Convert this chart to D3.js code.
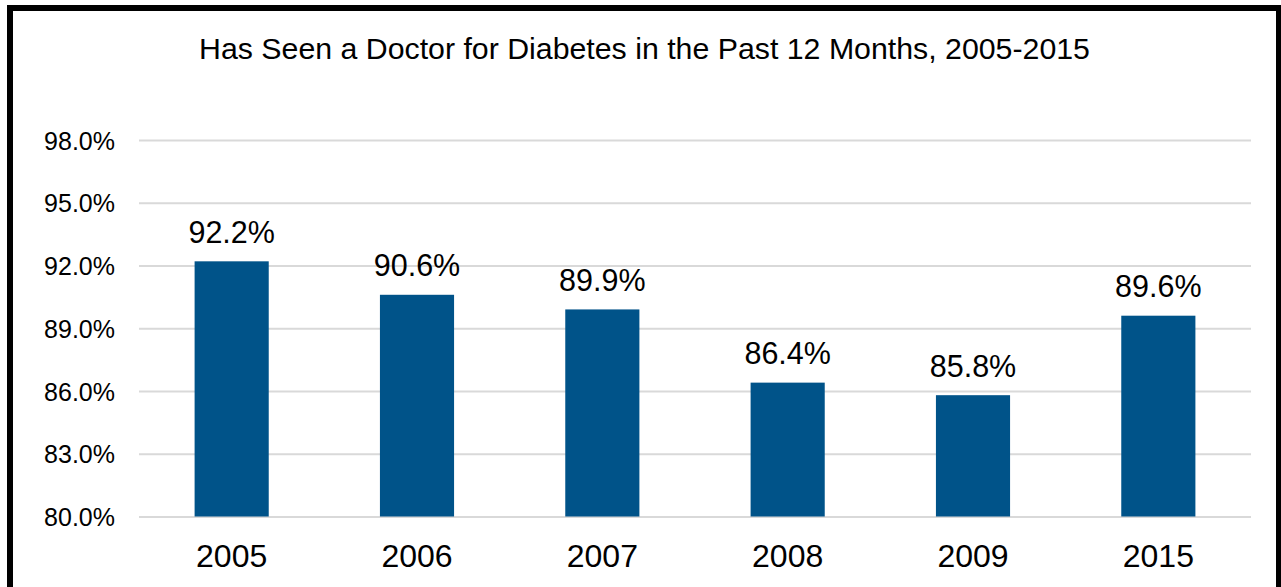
<!DOCTYPE html>
<html>
<head>
<meta charset="utf-8">
<script src="https://cdn.jsdelivr.net/npm/d3@7"></script>
<style>
  html, body { margin: 0; padding: 0; background: #fff; }
  svg { display: block; font-family: "Liberation Sans", Arial, sans-serif; }
</style>
</head>
<body>
<svg id="chart" width="1281" height="587"></svg>
<script>
// Diabetes care: share of people who saw a doctor in the past 12 months
const years = ["2005", "2006", "2007", "2008", "2009", "2015"];
const percentSeen = [92.2, 90.6, 89.9, 86.4, 85.8, 89.6];
const yTicks = [80, 83, 86, 89, 92, 95, 98];
const chartTitle = "Has Seen a Doctor for Diabetes in the Past 12 Months, 2005-2015";

const width = 1281, height = 587;
const plot = { left: 139, right: 1251, top: 140, bottom: 516.5 };

const svg = d3.select("#chart");

svg.append("rect")
  .attr("width", width).attr("height", height)
  .attr("fill", "#fff");

// Outer frame (bottom edge runs past the canvas)
svg.append("rect")
  .attr("x", 10).attr("y", 8)
  .attr("width", 1269).attr("height", 620)
  .attr("fill", "none")
  .attr("stroke", "#000")
  .attr("stroke-width", 6);

const x = d3.scaleBand()
  .domain(years)
  .range([plot.left, plot.right])
  .paddingInner(0.6)
  .paddingOuter(0.3);

const y = d3.scaleLinear()
  .domain([80, 98])
  .range([plot.bottom, plot.top]);

// Horizontal gridlines + tick labels
const yAxis = d3.axisLeft(y)
  .tickValues(yTicks)
  .tickSize(-(plot.right - plot.left))
  .tickPadding(24)
  .tickFormat(d => d.toFixed(1) + "%");

const gy = svg.append("g")
  .attr("transform", `translate(${plot.left},0)`)
  .call(yAxis);
gy.select(".domain").remove();
gy.selectAll(".tick line")
  .attr("stroke", "#d9d9d9")
  .attr("stroke-width", 2);
gy.selectAll(".tick text")
  .attr("fill", "#000")
  .attr("font-size", 25)
  .attr("font-family", "'Liberation Sans', Arial, sans-serif")
  .attr("dy", "0.36em");

// Bars
svg.append("g")
  .selectAll("rect")
  .data(years)
  .join("rect")
  .attr("x", (d) => x(d))
  .attr("y", (d, i) => y(percentSeen[i]))
  .attr("width", x.bandwidth())
  .attr("height", (d, i) => y(80) - y(percentSeen[i]))
  .attr("fill", "#005389");

// Value labels
svg.append("g")
  .selectAll("text")
  .data(years)
  .join("text")
  .attr("x", d => x(d) + x.bandwidth() / 2)
  .attr("y", (d, i) => y(percentSeen[i]) - 18.4)
  .attr("text-anchor", "middle")
  .attr("font-size", 30.5)
  .attr("fill", "#000")
  .text((d, i) => percentSeen[i].toFixed(1) + "%");

// Category axis labels
const xAxis = d3.axisBottom(x).tickSize(0).tickPadding(0);
const gx = svg.append("g")
  .attr("transform", `translate(0,${plot.bottom})`)
  .call(xAxis);
gx.select(".domain").remove();
gx.selectAll(".tick text")
  .attr("fill", "#000")
  .attr("font-size", 32)
  .attr("font-family", "'Liberation Sans', Arial, sans-serif")
  .attr("dy", 0)
  .attr("y", 50);

// Title
svg.append("text")
  .attr("x", 644.5)
  .attr("y", 58.5)
  .attr("text-anchor", "middle")
  .attr("font-size", 30.3)
  .attr("fill", "#000")
  .text(chartTitle);
</script>
</body>
</html>
